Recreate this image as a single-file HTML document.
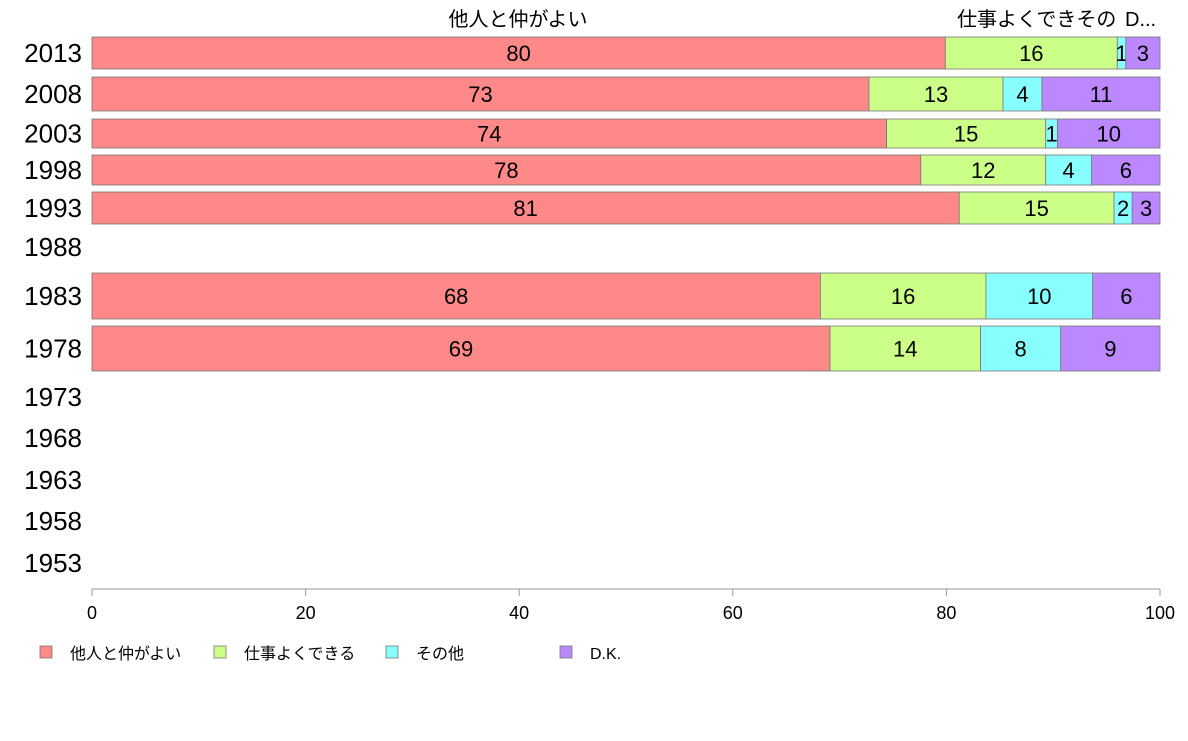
<!DOCTYPE html>
<html><head><meta charset="utf-8"><style>
body{margin:0;background:#fff;}
svg text{font-family:"Liberation Sans","Noto Sans CJK JP",sans-serif;}
</style></head><body>
<svg width="1188" height="736" xmlns="http://www.w3.org/2000/svg">
<g id="bars"></g>
<g id="ylabels"></g>
<g id="xaxis"></g>
<g id="heads">
<text x="518" y="26" font-size="20" text-anchor="middle">他人と仲がよい</text>
<text x="957" y="26" font-size="20">仕事よくできその</text>
<text x="1125" y="26" font-size="20">D...</text>
</g>
<g id="legend"></g>
</svg>
<script>
const years=["2013","2008","2003","1998","1993","1988","1983","1978","1973","1968","1963","1958","1953"];
const s1=[79.9,72.75,74.4,77.6,81.2,null,68.2,69.1];
const s2=[16.1,12.55,14.9,11.7,14.5,null,15.5,14.1];
const s3=[0.8,3.65,1.1,4.3,1.7,null,10.0,7.5];
const s4=[3.2,11.05,9.6,6.4,2.6,null,6.3,9.3];
const seriesNames=["他人と仲がよい","仕事よくできる","その他","D.K."];
const ticks=[0,20,40,60,80,100];
const colors=["#ff8888","#ccff88","#88ffff","#bb88ff"];
const rowTop=[37,77,119,155,192,232,273,326,382,423,465,506,548];
const rowBot=[69,111,148,185,224,262,319,371,412,453,495,536,578];
const NS="http://www.w3.org/2000/svg";
const x=v=>92+v*10.68;
function mk(t,a,p){const e=document.createElementNS(NS,t);for(const k in a)e.setAttribute(k,a[k]);p.appendChild(e);return e;}
const bars=document.getElementById('bars'),yl=document.getElementById('ylabels');
const all=[s1,s2,s3,s4];
years.forEach((y,i)=>{
  const t=mk('text',{x:82,y:(rowTop[i]+rowBot[i])/2+9,'font-size':26,'text-anchor':'end'},yl);
  
  
  t.textContent=y;
  if(i>=s1.length||s1[i]==null)return;
  let c=0;
  all.forEach((s,j)=>{
    const v=s[i];
    const r=mk('rect',{x:x(c),y:rowTop[i],width:x(c+v)-x(c),height:rowBot[i]-rowTop[i],fill:colors[j],stroke:'#777','stroke-width':0.8},bars);
    
    
    const tx=mk('text',{x:(x(c)+x(c+v))/2,y:(rowTop[i]+rowBot[i])/2+8,'font-size':22,'text-anchor':'middle'},bars);
    
    
    tx.textContent=Math.round(v);
    c+=v;
  });
});
const xa=document.getElementById('xaxis');
mk('line',{x1:x(0),x2:x(100),y1:589,y2:589,stroke:'#999'},xa);
ticks.forEach(t=>{
  mk('line',{x1:x(t),x2:x(t),y1:589,y2:596,stroke:'#999'},xa);
  const e=mk('text',{x:x(t),y:619,'font-size':18,'text-anchor':'middle'},xa);
  
  
  e.textContent=t;
});
const lg=document.getElementById('legend');const lx=[40,214,386,560];
seriesNames.forEach((n,j)=>{
  const r=mk('rect',{x:lx[j],y:646,width:12,height:12,fill:colors[j],stroke:'#777','stroke-width':0.8},lg);
  
  
  const t=mk('text',{x:lx[j]+30,y:659,'font-size':16},lg);
  
  
  t.textContent=n;
});
</script>
</body></html>
